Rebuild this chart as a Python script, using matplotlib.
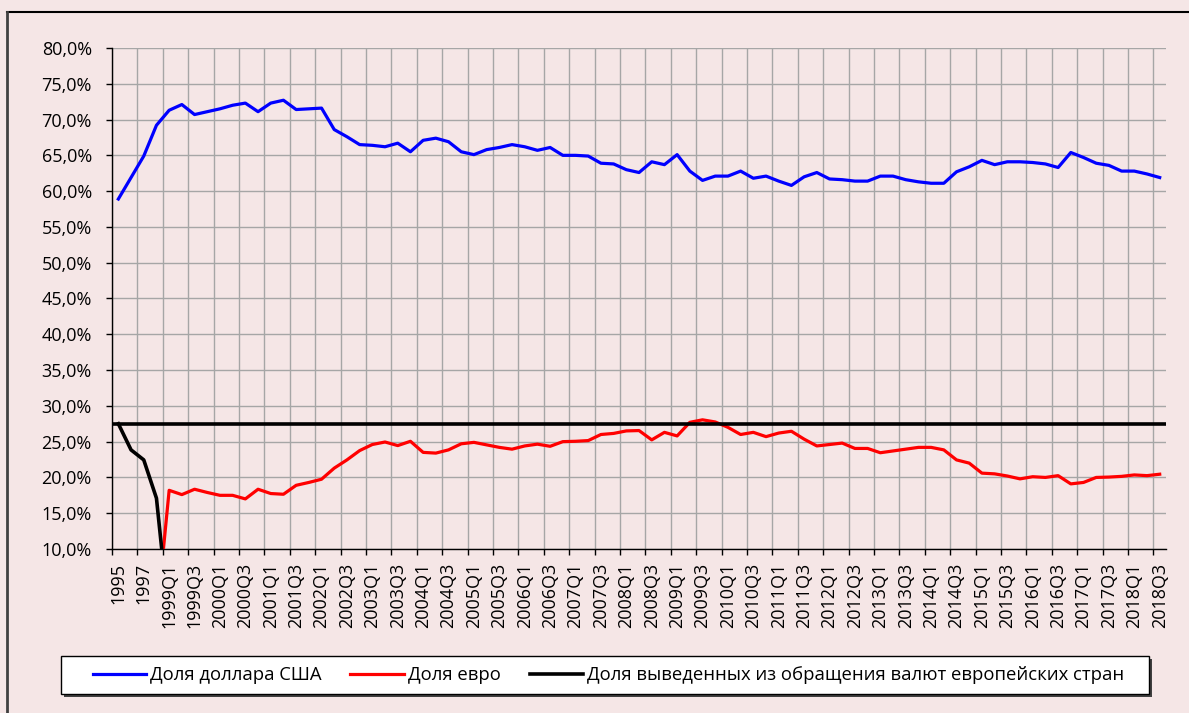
import numpy as np
import matplotlib.pyplot as plt
from matplotlib.lines import Line2D
from matplotlib.patches import Rectangle

# Категории: годы 1995-1998, затем кварталы 1999Q1 - 2018Q3
periods = ["1995", "1996", "1997", "1998"] + \
    [f"{y}Q{q}" for y in range(1999, 2019) for q in range(1, 5)][:-1]

usd_share = [
    58.9, 61.9, 64.9, 69.2, 71.3, 72.1, 70.7, 71.1, 71.5, 72.0,
    72.3, 71.1, 72.3, 72.7, 71.4, 71.5, 71.6, 68.6, 67.6, 66.5,
    66.4, 66.2, 66.7, 65.5, 67.1, 67.4, 66.9, 65.5, 65.1, 65.8,
    66.1, 66.5, 66.2, 65.7, 66.1, 65.0, 65.0, 64.9, 63.9, 63.8,
    63.0, 62.6, 64.1, 63.7, 65.1, 62.8, 61.5, 62.1, 62.1, 62.8,
    61.8, 62.1, 61.4, 60.8, 62.0, 62.6, 61.7, 61.6, 61.4, 61.4,
    62.1, 62.1, 61.6, 61.3, 61.1, 61.1, 62.7, 63.4, 64.3, 63.7,
    64.1, 64.1, 64.0, 63.8, 63.3, 65.4, 64.7, 63.9, 63.6, 62.8,
    62.8, 62.4, 61.9,
]

eur_share = [
    None, None, None, 0.0, 18.2, 17.6, 18.35, 17.9, 17.5, 17.5,
    17.0, 18.35, 17.75, 17.65, 18.9, 19.3, 19.75, 21.3, 22.45, 23.75,
    24.6, 24.95, 24.45, 25.05, 23.5, 23.4, 23.85, 24.7, 24.9, 24.55,
    24.2, 23.95, 24.4, 24.65, 24.35, 25.0, 25.05, 25.15, 26.0, 26.15,
    26.5, 26.55, 25.25, 26.3, 25.8, 27.7, 28.05, 27.75, 27.0, 26.0,
    26.3, 25.7, 26.2, 26.45, 25.35, 24.4, 24.6, 24.8, 24.05, 24.05,
    23.45, 23.7, 23.95, 24.2, 24.2, 23.85, 22.45, 22.0, 20.6, 20.5,
    20.2, 19.8, 20.1, 20.0, 20.25, 19.1, 19.3, 20.0, 20.05, 20.15,
    20.35, 20.25, 20.45,
]

legacy_share = [27.5, 23.85, 22.45, 17.1, 0.0]
legacy_level = 27.5

labels = ["Доля доллара США", "Доля евро",
          "Доля выведенных из обращения валют европейских стран"]

bg = "#F5E6E6"
plt.rcParams["font.family"] = ["Open Sans", "DejaVu Sans"]

W, H = 1189, 713
fig = plt.figure(figsize=(W / 100, H / 100), dpi=100, facecolor=bg)
ax = fig.add_axes([0.0942, 0.230, 0.8865, 0.7027])
ax.set_facecolor(bg)

n = len(periods)
x = np.arange(n)
eur = np.array([np.nan if v is None else v for v in eur_share], dtype=float)

l1, = ax.plot(x, usd_share, color="#0000FF", lw=2.3, zorder=3)
l2, = ax.plot(x, eur, color="#FF0000", lw=2.3, zorder=3)
l3, = ax.plot(x[:len(legacy_share)], legacy_share, color="black", lw=2.6, zorder=4)
ax.axhline(legacy_level, color="black", lw=2.6, zorder=4)

ax.set_xlim(-0.5, n - 0.5)
ax.set_ylim(10, 80)

# оси и сетка
ax.set_yticks(np.arange(10, 81, 5))
ax.set_yticklabels([f"{v:.1f}%".replace(".", ",") for v in np.arange(10, 81, 5)],
                   fontsize=13)
ax.set_xticks(np.arange(-0.5, n - 0.5, 2))
ax.set_xticklabels([])
ax.set_xticks(np.arange(0, n, 2), minor=True)
ax.set_xticklabels(periods[::2], minor=True, rotation=90, fontsize=13)
ax.tick_params(axis="x", which="minor", length=0, pad=10)
ax.tick_params(axis="x", which="major", length=4.5, width=1)
ax.tick_params(axis="y", length=4.5, width=1, pad=10)

ax.grid(True, which="major", color="#A6A6A6", lw=1, zorder=1)
ax.set_axisbelow(True)
for s in ["top", "right"]:
    ax.spines[s].set_visible(False)
for s in ["left", "bottom"]:
    ax.spines[s].set_color("black")
    ax.spines[s].set_linewidth(1)

# рамка легенды с тенью
bx0, bx1, by0, by1 = 61, 1149, 656, 694
fig.add_artist(Rectangle(((bx0 + 3) / W, 1 - (by1 + 3) / H), (bx1 - bx0) / W,
                         (by1 - by0) / H, transform=fig.transFigure,
                         facecolor="#404040", edgecolor="none", zorder=5))
fig.add_artist(Rectangle((bx0 / W, 1 - by1 / H), (bx1 - bx0) / W,
                         (by1 - by0) / H, transform=fig.transFigure,
                         facecolor="white", edgecolor="black", lw=1, zorder=6))

leg = fig.legend([l1, l2, l3], labels, loc="center", ncol=3,
                 bbox_to_anchor=(608.5 / W, 1 - 675 / H), fontsize=13.3,
                 frameon=False, handlelength=2.9, handletextpad=0.22,
                 columnspacing=1.55, borderpad=0.3, borderaxespad=0)
leg.set_zorder(7)

# рамка диаграммы (видны только верхний и левый края)
fig.add_artist(Line2D([7 / W, 1], [1 - 12 / H, 1 - 12 / H], color="black", lw=1.5))
fig.add_artist(Line2D([7 / W, 7 / W], [0, 1 - 12 / H], color="#404040", lw=2))

fig.savefig("out.png", dpi=100, facecolor=bg)
